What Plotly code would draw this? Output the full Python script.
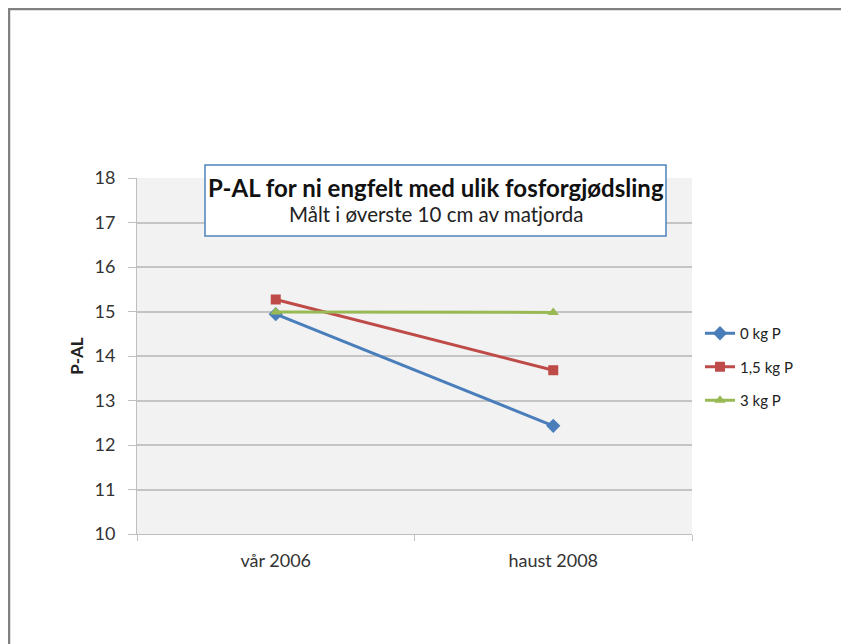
import plotly.graph_objects as go

categories = ["vår 2006", "haust 2008"]
series_names = ["0 kg P", "1,5 kg P", "3 kg P"]
p0 = [14.94, 12.43]
p15 = [15.27, 13.68]
p3 = [14.99, 14.98]

colors = ["#4a7ebb", "#be4b48", "#98b954"]
symbols = ["diamond", "square", "triangle-up"]

# page body has an 8px margin, so figure coords are page coords minus 8
W, H = 849, 644
L, R, T, B = 129, 165, 170, 118
pw, ph = W - L - R, H - T - B


def px_to_paper(x, y):
    return (x - L) / pw, (H - B - y) / ph


fig = go.Figure()
for i, (name, vals, c, s) in enumerate(zip(series_names, [p0, p15, p3], colors, symbols)):
    fig.add_trace(go.Scatter(
        x=categories, y=vals,
        mode="lines+markers",
        name=name,
        legendgroup=str(i),
        line=dict(color=c, width=3),
        marker=dict(symbol=s, size=10 if s != "diamond" else 11, color=c),
    ))

lx, ly = px_to_paper(692, 359)
fig.update_layout(
    width=W, height=H,
    margin=dict(l=L, r=R, t=T, b=B),
    paper_bgcolor="white",
    plot_bgcolor="#f2f2f2",
    font=dict(family="Lato, Carlito, sans-serif", size=14, color="#333333"),
    showlegend=True,
    legend=dict(x=lx, y=ly, xanchor="left", yanchor="middle",
                font=dict(size=15, color="#222222"), traceorder="grouped",
                tracegroupgap=11, itemwidth=30, bgcolor="rgba(0,0,0,0)"),
    xaxis=dict(
        type="category", range=[-0.5, 1.5],
        showgrid=False, showline=True, linecolor="#bfbfbf", linewidth=1,
        ticks="outside", tickson="boundaries", ticklen=6, tickcolor="#bfbfbf",
        tickfont=dict(size=18, color="#333333"), ticklabelstandoff=10,
    ),
    yaxis=dict(
        range=[10, 18], dtick=1,
        showgrid=True, gridcolor="#c4c4c4", gridwidth=1.5,
        showline=True, linecolor="#bfbfbf", linewidth=1,
        ticks="outside", ticklen=8, tickcolor="#bfbfbf",
        tickfont=dict(size=18, color="#333333"), ticklabelstandoff=9,
        title=dict(text="<b>P-AL</b>", font=dict(size=17, color="#222222"), standoff=6),
        zeroline=False,
    ),
)

# title box inside plot area
x0, y0 = px_to_paper(197, 157)
x1, y1 = px_to_paper(658, 228)
fig.add_shape(type="rect", xref="paper", yref="paper", x0=x0, y0=y1, x1=x1, y1=y0,
              line=dict(color="#4f81bd", width=1.5), fillcolor="white", layer="above")
cx, ty = px_to_paper(428, 179)
fig.add_annotation(xref="paper", yref="paper", x=cx, y=ty, showarrow=False,
                   xanchor="center", yanchor="middle",
                   text="<b>P-AL for ni engfelt med ulik fosforgjødsling</b>",
                   font=dict(size=24, color="#111111"))
cx, sy = px_to_paper(428, 206)
fig.add_annotation(xref="paper", yref="paper", x=cx, y=sy, showarrow=False,
                   xanchor="center", yanchor="middle",
                   text="Målt i øverste 10 cm av matjorda",
                   font=dict(size=20.5, color="#222222"))

# outer frame
bx0, by0 = px_to_paper(1, 1)
bx1, by1 = px_to_paper(880, 680)
fig.add_shape(type="rect", xref="paper", yref="paper", x0=bx0, y0=by1, x1=bx1, y1=by0,
              line=dict(color="#808080", width=2.5), fillcolor="rgba(0,0,0,0)", layer="above")

fig.write_html("out.html")
